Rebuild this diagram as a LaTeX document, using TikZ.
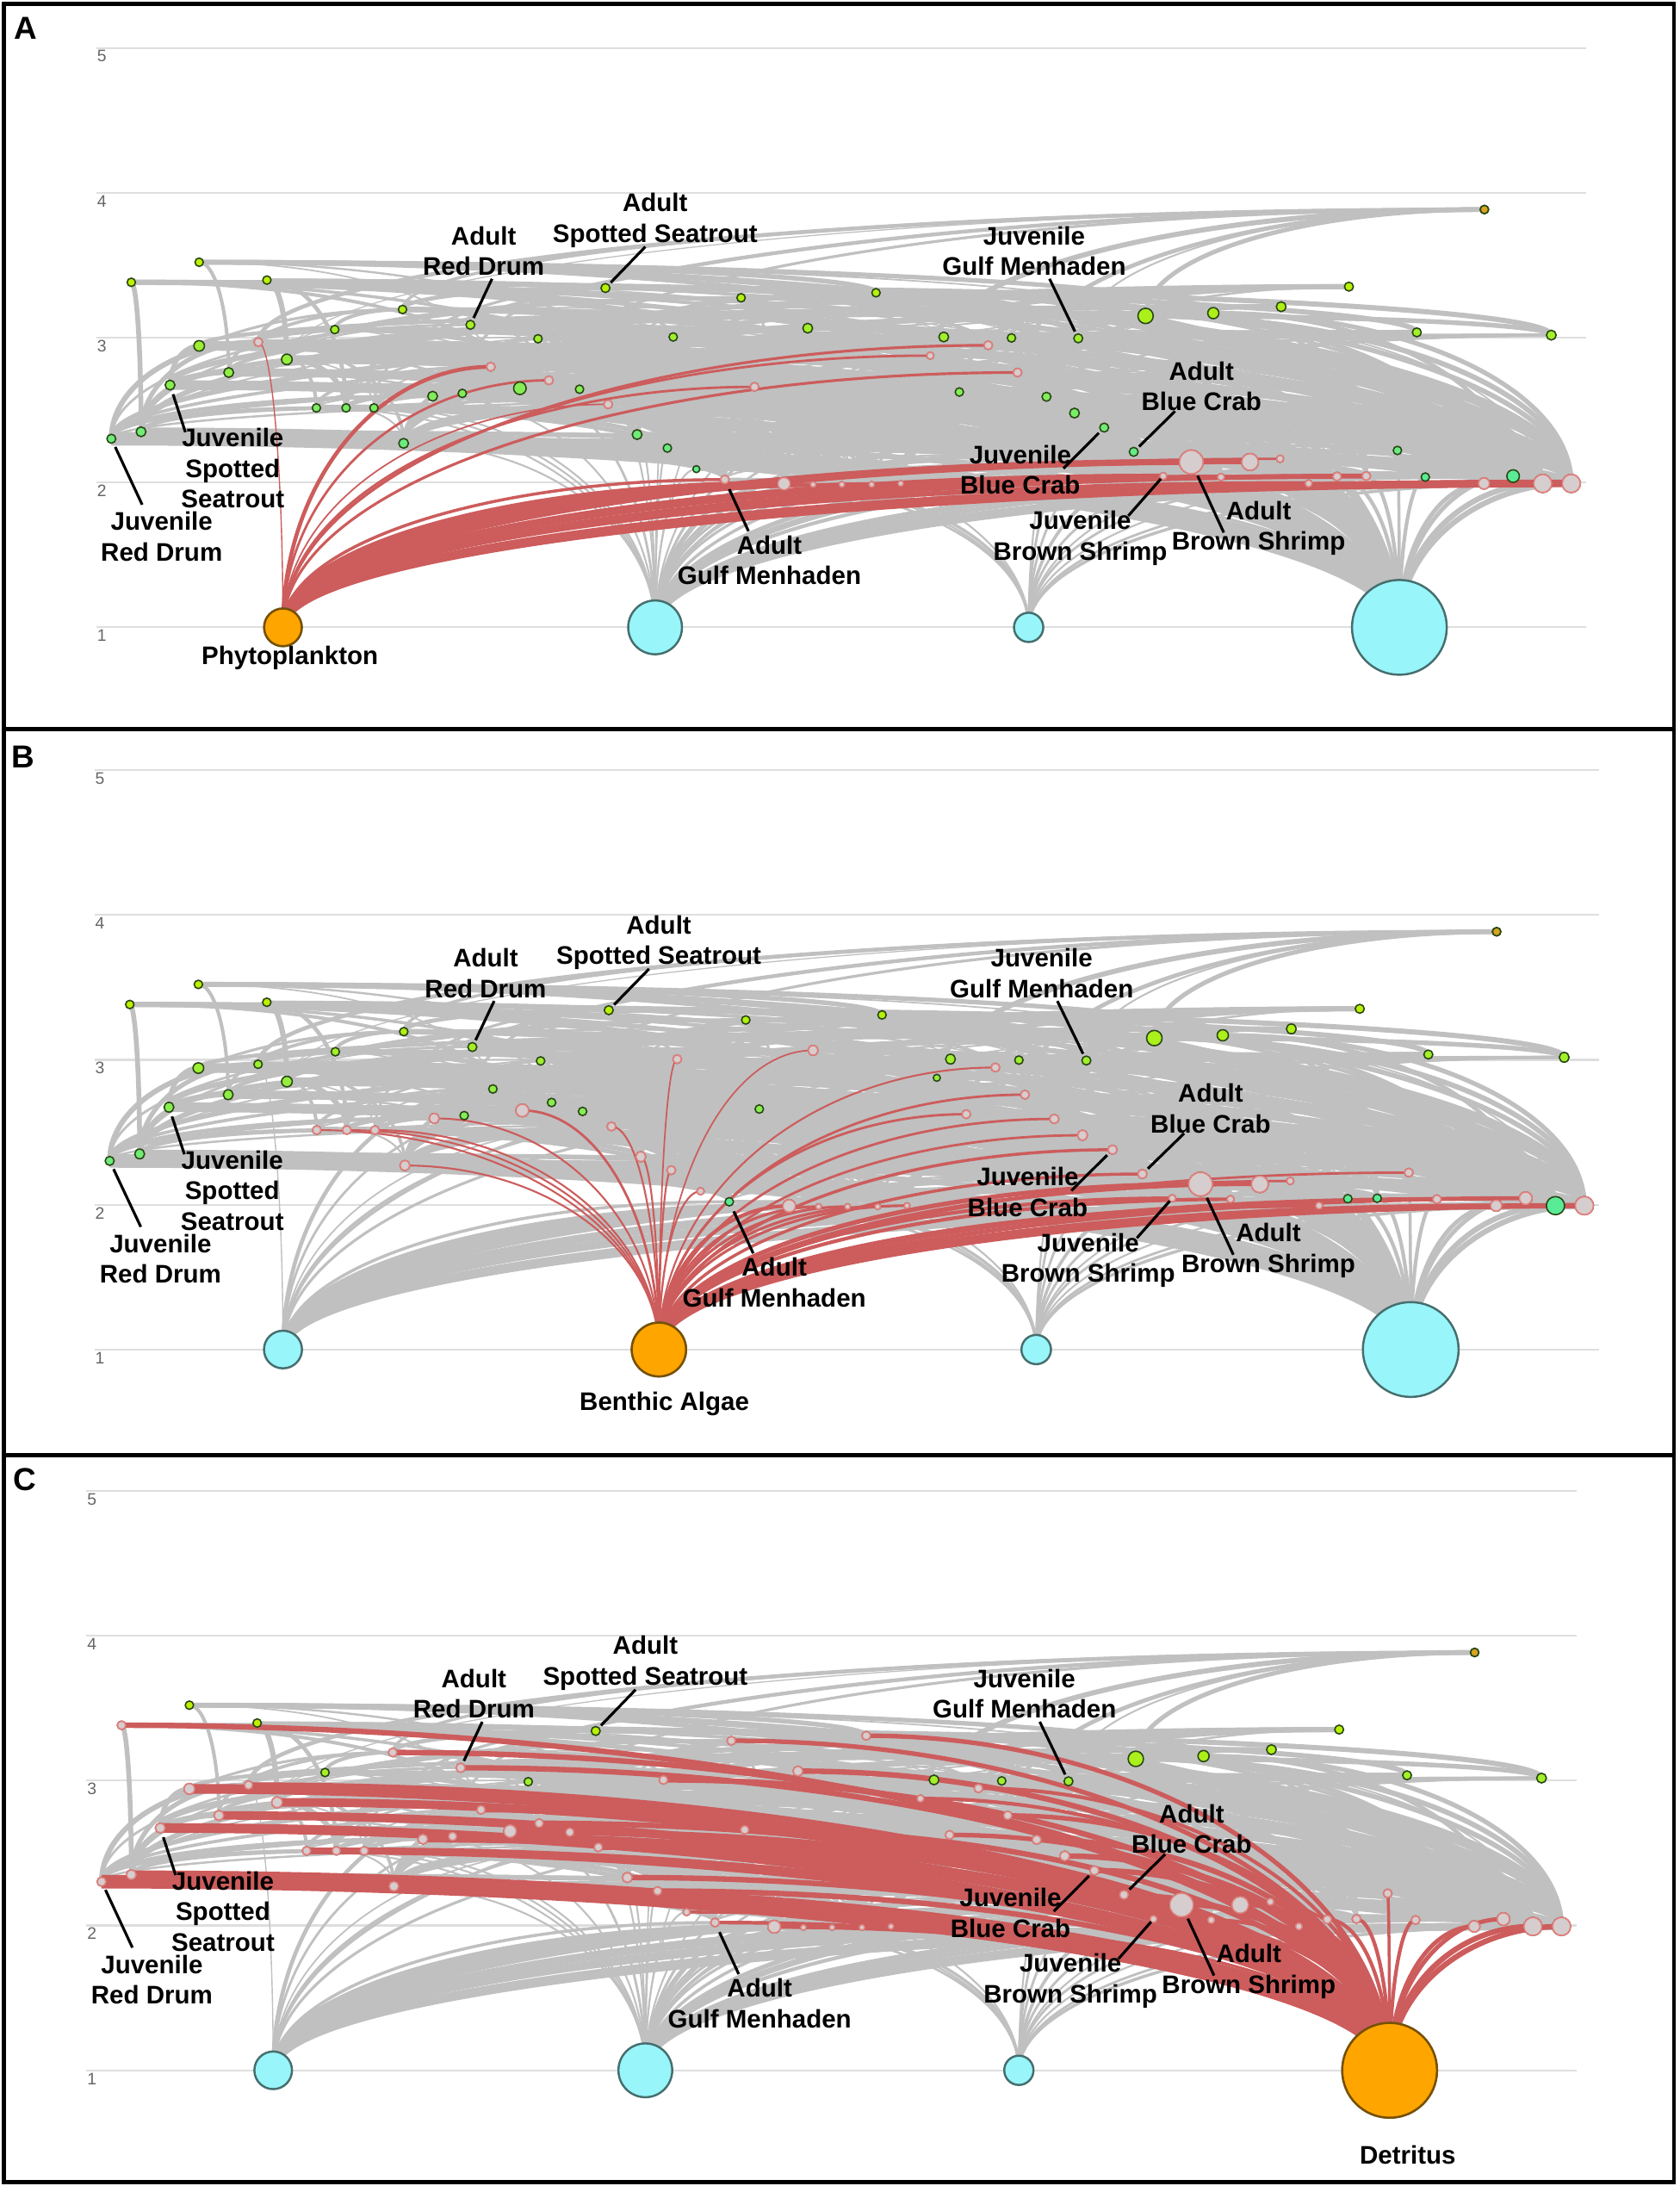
\documentclass[tikz,border=0pt]{standalone}
\usepackage{fontspec}
\setmainfont{Liberation Sans}
\usetikzlibrary{calc}

\definecolor{webgray}{RGB}{192,192,192}
\definecolor{webred}{RGB}{205,92,92}
\definecolor{levelgray}{RGB}{222,222,222}
\definecolor{basecyan}{RGB}{152,245,250}
\definecolor{baseedge}{RGB}{70,110,110}
\definecolor{baseorange}{RGB}{255,165,0}
\definecolor{orangeedge}{RGB}{120,80,0}
\definecolor{lowgreen}{RGB}{90,235,150}
\definecolor{topgreen}{RGB}{190,240,0}
\definecolor{speciesedge}{RGB}{40,70,20}
\definecolor{linkfill}{RGB}{214,206,206}
\definecolor{linkdraw}{RGB}{228,128,128}
\definecolor{apexgold}{RGB}{215,165,30}

\tikzset{
  trophic/.style={to path={.. controls ($(\tikztostart)!.55!(\tikztostart|-\tikztotarget)$) and ($(\tikztotarget)!.55!(\tikztostart|-\tikztotarget)$) .. (\tikztotarget)}},
  web/.style={draw=webgray},
  food/.style={draw=webred},
  levelline/.style={draw=levelgray, line width=0.6pt},
  levelnum/.style={font=\fontsize{5.5}{6}\selectfont, text=black!60, inner sep=0pt},
  species/.style={draw=speciesedge, line width=0.45pt},
  linked/.style={fill=linkfill, draw=linkdraw, line width=0.5pt},
  producer/.style={fill=basecyan, draw=baseedge, line width=0.7pt},
  lbl/.style={font=\bfseries\fontsize{8.4}{10.1}\selectfont, align=center, inner sep=0pt},
  lead/.style={draw=black, line width=0.9pt, shorten >=2.5pt},
  panelletter/.style={font=\bfseries\fontsize{10.5}{12}\selectfont, inner sep=0pt},
  frame/.style={draw=black, line width=1.4pt}
}

% basal groups: id/x/y/radius
\newcommand\producers{1/203/450/13.5,2/470/450/19.3,3/738/450/10.5,4/1004/450/34}
% consumers, lowest trophic level first: id/x/y/radius
\newcommand\consumers{1/520/344/3,2/562.5/347/4.5,3/583.4/347.5/2,4/604/347.5/2,
5/625.4/347.5/2,6/646.2/346.8/2,7/834.6/341.5/2.5,8/876/342.2/2.5,9/938.9/346.8/2.5,
10/959.3/341.8/3,11/980.2/341.5/3,12/1022.6/342.2/3,13/1064.7/346.8/4,14/1085.6/341.5/4.5,
15/1106.8/346.8/6.5,16/1127.3/346.8/6.5,17/854.7/331.4/8.5,18/896.8/331.4/6,19/918.4/329.1/2.5,
20/813.4/324.1/3.2,21/1002.6/323.1/3,22/499.6/336.5/2.5,23/79.9/314.7/3.2,24/101.2/309.7/3.5,
25/289.6/318/3.5,26/457.1/311.7/3.5,27/478.8/321.4/3,28/792.2/306.7/3.2,29/770.9/296.3/3.5,
30/227/292.6/3,31/248.3/292.6/3,32/268.3/292.6/3,33/436.3/290/3,34/750.8/284.6/3.2,
35/310.4/284.2/3.5,36/331.7/282.2/3,37/688.3/281.2/3,38/415.8/279.2/3,39/373/278.5/4.5,
40/541.3/277.5/3,41/122/276.2/3.5,42/393.8/272.8/3,43/164.1/267.2/3.5,44/730/267.2/3,
45/352.1/263.1/3,46/205.8/257.8/3.8,47/667.4/255.1/2.5,48/142.9/248.1/3.8,49/709/247.7/3,
50/185.3/245.4/3,51/386/243/3,52/773.6/242.7/3.2,53/725.7/242.4/3,54/677.1/241.7/3.5,
55/483/241.7/3,56/1113/240.4/3.5,57/1016.5/238.4/3.2,58/579.5/235.4/3.5,59/240.2/236.4/3,
60/337.5/233/3.2,61/821.9/226.6/5.5,62/870.5/224.6/4,63/288.8/222/3,64/919.2/220/3.5,
65/531.7/213.6/3,66/628.5/210/3,67/434.4/206.6/3.2,68/967.8/205.6/3.2,69/94.2/202.5/3,
70/191.5/200.9/3,71/142.9/188.1/3,72/1065/150.3/3}

% links from each basal group: consumer/width (pt)
\expandafter\def\csname links1\endcsname{1/1.0,2/2.0,3/1.0,4/1.0,5/1.0,6/1.0,7/1.6,8/1.6,9/1.6,
10/1.6,11/1.6,13/2.0,15/2.5,16/2.5,17/2.0,18/1.4,19/0.8,33/0.5,40/0.8,42/0.8,44/0.9,45/1.3,
47/0.8,49/0.9,50/0.4}
\expandafter\def\csname links2\endcsname{2/1.2,3/0.9,4/0.9,5/0.9,6/0.9,7/1.2,8/1.2,9/1.4,12/1.4,
13/1.4,14/1.4,16/1.8,17/1.5,18/1.2,19/0.8,20/1.0,21/0.8,22/0.6,25/0.6,26/0.6,27/0.6,28/1.0,
29/0.8,30/0.6,31/0.6,32/0.6,33/0.6,34/0.8,35/0.6,37/0.8,39/0.8,44/0.8,49/0.6,55/0.5,58/0.5}
\expandafter\def\csname links3\endcsname{1/0.8,2/1.0,7/0.8,8/0.8,9/0.8,13/0.8,15/1.0,17/1.0,
20/0.8,22/0.6,26/0.6,28/0.8,12/0.6,21/0.6,29/0.6}
\expandafter\def\csname links4\endcsname{1/1.2,2/1.4,3/1.0,4/1.0,5/1.0,6/1.0,7/1.2,8/1.2,9/1.2,
10/1.2,11/1.2,12/1.2,13/1.4,14/1.4,15/1.8,16/1.8,17/1.5,18/1.2,19/0.8,20/1.5,21/1.0,22/1.0,
23/4.5,24/2.8,25/2.2,26/1.8,27/1.8,28/1.8,29/1.8,30/2.2,31/2.2,32/2.2,33/1.8,34/1.8,35/2.2,
36/2.2,37/1.5,38/1.8,39/2.2,40/1.8,41/3.2,42/1.8,43/2.8,44/1.5,45/1.8,46/2.8,47/1.2,48/3.2,
49/1.2,50/1.8,55/1.8,58/1.8,60/1.8,63/1.8,65/1.5,66/1.5,69/1.8}

% #1 highlighted basal group, #2 panel prefix, #3 its name, #4 name position
\newcommand\foodweb[4]{%
  % trophic level lines
  \foreach \l in {1,...,5} {
    \draw[levelline] (69,{450-103.9*(\l-1)}) -- (1138,{450-103.9*(\l-1)});
    \node[levelnum] (#2lv\l) at (73,{456-103.9*(\l-1)}) {\l};
  }
  \foreach \i/\x/\y/\rad in \producers {
    \coordinate (#2b\i) at (\x,\y);
    \expandafter\xdef\csname prad\i\endcsname{\rad}
  }
  \foreach \i/\x/\y/\rad in \consumers {
    \coordinate (#2c\i) at (\x,\y);
    \expandafter\xdef\csname crad\i\endcsname{\rad}
    \expandafter\xdef\csname cx\i\endcsname{\x}
  }
  % consumer to consumer links
  \pgfmathsetseed{4711}
  \foreach \i in {17,...,72} {
    \pgfmathtruncatemacro\lastprey{\i-1}
    \pgfmathrandominteger{\nprey}{6}{13}
    \edef\qx{\csname cx\i\endcsname}
    \foreach \m in {1,...,\nprey} {
      \pgfmathrandominteger{\j}{1}{\lastprey}
      \pgfmathtruncatemacro\prey{rnd<0.3 ? 13+3.99*rnd : \j}
      \pgfmathsetmacro\w{0.35+1.4*rnd}
      \edef\px{\csname cx\prey\endcsname}
      \pgfmathtruncatemacro\keep{(\qx<900) || (\px<\qx-60)}
      \ifnum\keep=1
        \draw[web, line width=\w pt] (#2c\prey) to[trophic] (#2c\i);
      \fi
    }
  }
  % basal links
  \foreach \src in {1,2,3,4} {
    \ifnum\src=#1\relax\else
      \edef\curlinks{\csname links\src\endcsname}
      \foreach \tgt/\w in \curlinks {\draw[web, line width=\w pt] (#2b\src) to[trophic] (#2c\tgt);}
    \fi
  }
  \edef\curlinks{\csname links#1\endcsname}
  \foreach \tgt/\w in \curlinks {\draw[food, line width=\w pt] (#2b#1) to[trophic] (#2c\tgt);}
  % species
  \foreach \i/\x/\y/\rad in \consumers {
    \pgfmathtruncatemacro\mixv{max(0,min(100,(\y-200)*100/140))}
    \filldraw[species, fill=lowgreen!\mixv!topgreen] (#2c\i) circle[radius=\rad];
  }
  \filldraw[species, fill=apexgold] (#2c72) circle[radius=3];
  \foreach \tgt/\w in \curlinks {\filldraw[linked] (#2c\tgt) circle[radius=\csname crad\tgt\endcsname];}
  \foreach \i/\x/\y/\rad in \producers {\filldraw[producer] (#2b\i) circle[radius=\rad];}
  \filldraw[producer, fill=baseorange, draw=orangeedge] (#2b#1) circle[radius=\csname prad#1\endcsname];
  % names
  \node[lbl] (#2src) at (#4) {#3};
  \node[lbl] (#2ASS) at (470,158) {Adult\\Spotted Seatrout};
  \node[lbl] (#2ARD) at (347,180) {Adult\\Red Drum};
  \node[lbl] (#2JGM) at (742,180) {Juvenile\\Gulf Menhaden};
  \node[lbl] (#2ABC) at (862,277) {Adult\\Blue Crab};
  \node[lbl] (#2JBC) at (732,337) {Juvenile\\Blue Crab};
  \node[lbl] (#2JBS) at (775,386) {Juvenile\\Brown Shrimp};
  \node[lbl] (#2ABS) at (903,379) {Adult\\Brown Shrimp};
  \node[lbl] (#2AGM) at (552,402) {Adult\\Gulf Menhaden};
  \node[lbl] (#2JSS) at (167,336) {Juvenile\\Spotted\\Seatrout};
  \node[lbl] (#2JRD) at (116,385) {Juvenile\\Red Drum};
  \draw[lead] ($(#2ASS)+(-7,19)$) -- (#2c67);
  \draw[lead] ($(#2ARD)+(6,20)$) -- (#2c60);
  \draw[lead] ($(#2JGM)+(11,20)$) -- (#2c52);
  \draw[lead] ($(#2ABC)+(-19,18)$) -- (#2c20);
  \draw[lead] ($(#2JBC)+(31,-1)$) -- (#2c28);
  \draw[lead, shorten >=1.2pt] ($(#2JBS)+(34.5,-16)$) -- (#2c7);
  \draw[lead, shorten >=5pt] ($(#2ABS)+(-25,3)$) -- (#2c17);
  \draw[lead, shorten >=3.5pt] ($(#2AGM)+(-15,-21)$) -- (#2c1);
  \draw[lead, shorten >=3.2pt] ($(#2JSS)+(-34,-26)$) -- (#2c41);
  \draw[lead, shorten >=3pt] ($(#2JRD)+(-14,-23)$) -- (#2c23);
}

\begin{document}
\begin{tikzpicture}[x=0.01619cm, y=-0.01619cm]
  \useasboundingbox (0,0) rectangle (1205,1568);
  \fill[white] (0,0) rectangle (1205,1568);
  % A: phytoplankton
  \begin{scope}
    \foodweb{1}{A}{Phytoplankton}{208,472}
  \end{scope}
  % B: benthic algae
  \begin{scope}[shift={(-2.03,518)}, xscale=1.01]
    \foodweb{2}{B}{Benthic Algae}{474,489}
  \end{scope}
  % C: detritus
  \begin{scope}[shift={(-7,1035)}]
    \foodweb{4}{C}{Detritus}{1017,511}
  \end{scope}
  \draw[frame] (3,3) rectangle (1201,1565);
  \draw[frame] (3,523) -- (1201,523);
  \draw[frame] (3,1044) -- (1201,1044);
  \node[panelletter] (lettA) at (18.5,20) {A};
  \node[panelletter] (lettB) at (16.5,543) {B};
  \node[panelletter] (lettC) at (17.5,1061) {C};
\end{tikzpicture}
\end{document}
